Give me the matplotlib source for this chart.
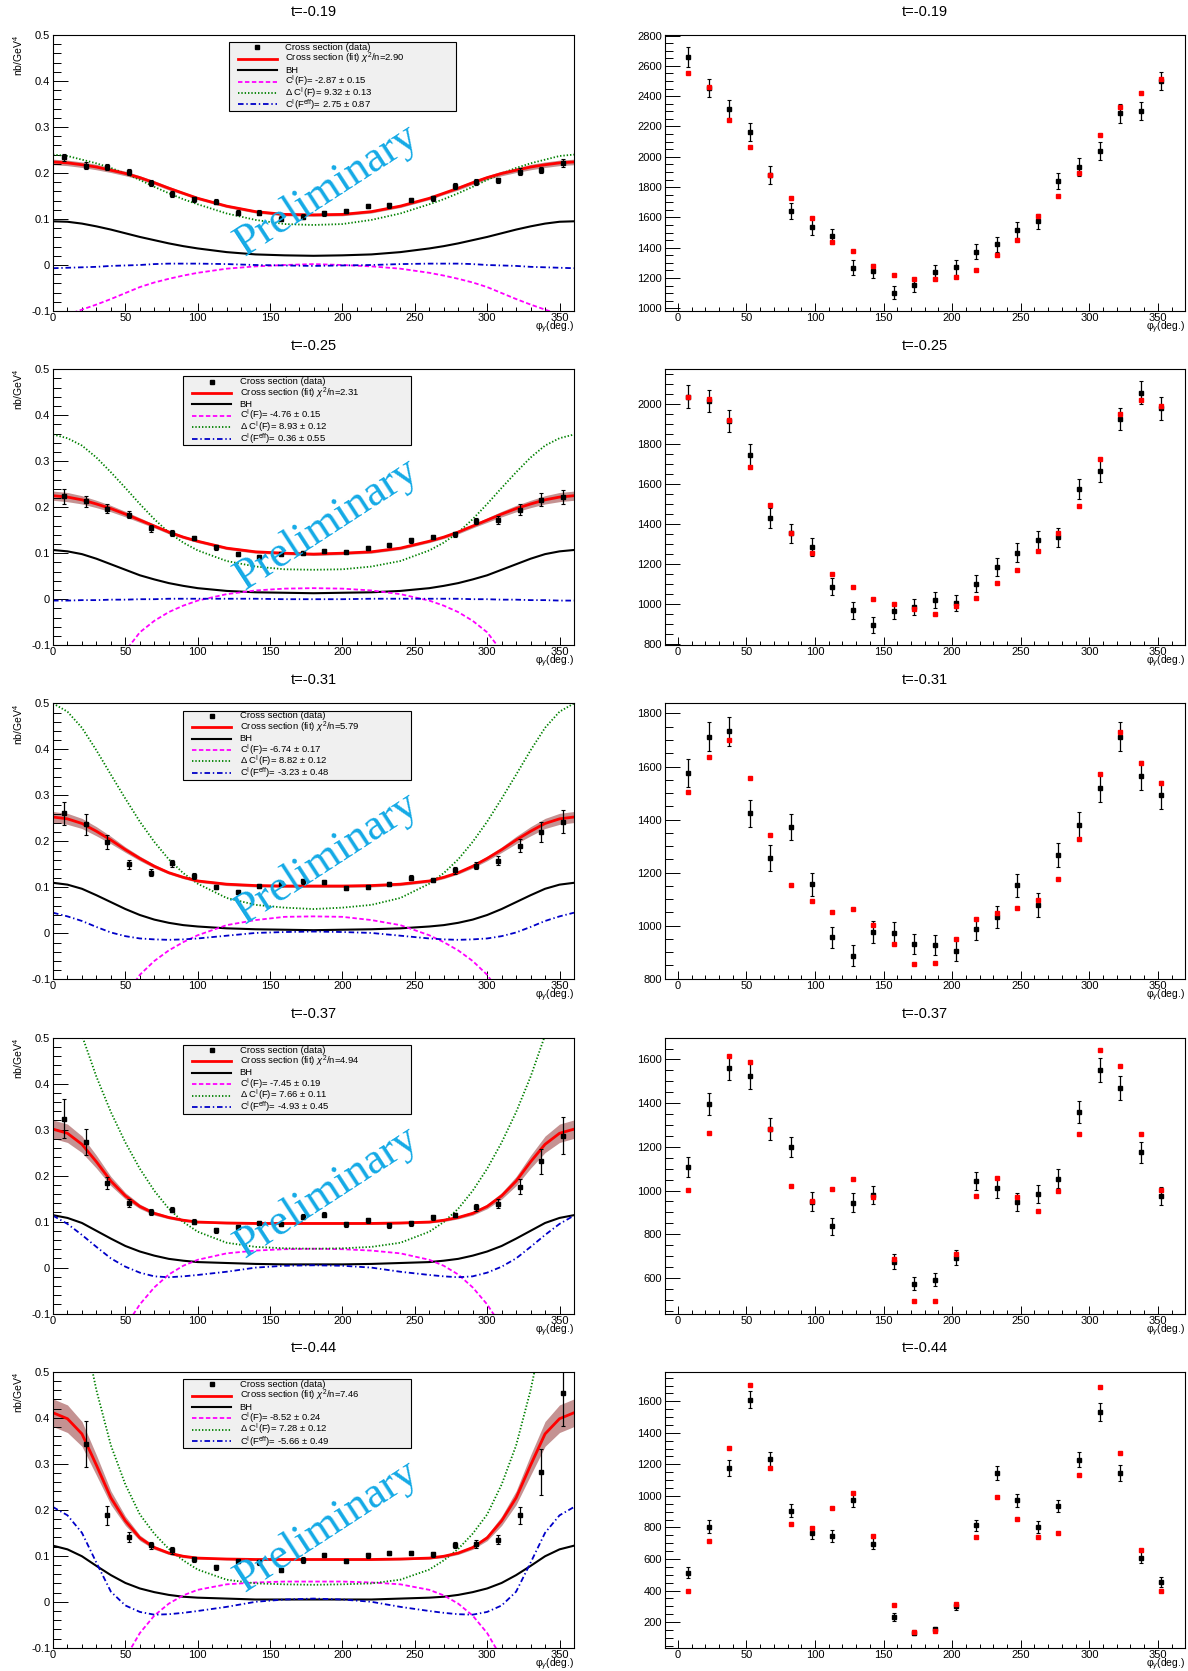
import numpy as np
import matplotlib
matplotlib.use("Agg")
import matplotlib.pyplot as plt
from matplotlib.ticker import MultipleLocator
from matplotlib.patches import Rectangle

plt.rcParams['font.family'] = ['Liberation Sans', 'DejaVu Sans']
plt.rcParams['mathtext.fontset'] = 'custom'
plt.rcParams['mathtext.rm'] = 'Liberation Sans'
plt.rcParams['mathtext.it'] = 'Liberation Sans:italic'
plt.rcParams['lines.scale_dashes'] = False

# --- labels / fit results ---
t_labels = ["t=-0.19", "t=-0.25", "t=-0.31", "t=-0.37", "t=-0.44"]
chi2_n = ["2.90", "2.31", "5.79", "4.94", "7.46"]
ci_par = ["-2.87 ± 0.15", "-4.76 ± 0.15", "-6.74 ± 0.17", "-7.45 ± 0.19", "-8.52 ± 0.24"]
dci_par = ["9.32 ± 0.13", "8.93 ± 0.12", "8.82 ± 0.12", "7.66 ± 0.11", "7.28 ± 0.12"]
eff_par = ["2.75 ± 0.87", "0.36 ± 0.55", "-3.23 ± 0.48", "-4.93 ± 0.45", "-5.66 ± 0.49"]

# phi bin centres of the data points
phi_bins = [7.5, 22.5, 37.5, 52.5, 67.5, 82.5, 97.5, 112.5, 127.5, 142.5, 157.5, 172.5,
            187.5, 202.5, 217.5, 232.5, 247.5, 262.5, 277.5, 292.5, 307.5, 322.5, 337.5, 352.5]

# --- left column: cross section data (nb/GeV^4) ---
xsec = [
    [0.234, 0.216, 0.213, 0.202, 0.178, 0.154, 0.143, 0.138, 0.114, 0.114, 0.101, 0.105,
     0.112, 0.117, 0.128, 0.130, 0.141, 0.145, 0.172, 0.181, 0.184, 0.203, 0.206, 0.222],
    [0.224, 0.213, 0.197, 0.184, 0.154, 0.144, 0.133, 0.113, 0.098, 0.092, 0.098, 0.100,
     0.105, 0.103, 0.112, 0.118, 0.128, 0.135, 0.141, 0.170, 0.172, 0.195, 0.216, 0.222],
    [0.261, 0.237, 0.198, 0.150, 0.132, 0.152, 0.125, 0.101, 0.090, 0.103, 0.108, 0.113,
     0.112, 0.099, 0.101, 0.107, 0.121, 0.116, 0.137, 0.147, 0.158, 0.191, 0.221, 0.243],
    [0.324, 0.273, 0.183, 0.141, 0.121, 0.126, 0.100, 0.081, 0.088, 0.097, 0.095, 0.111,
     0.115, 0.094, 0.103, 0.092, 0.096, 0.109, 0.114, 0.131, 0.139, 0.176, 0.231, 0.287],
    [np.nan, 0.343, 0.188, 0.141, 0.123, 0.112, 0.092, 0.075, 0.089, 0.086, 0.069, 0.091,
     0.102, 0.089, 0.101, 0.106, 0.106, 0.103, 0.124, 0.126, 0.135, 0.188, 0.282, 0.453],
]
xsec_err = [
    [0.008, 0.007, 0.007, 0.007, 0.006, 0.006, 0.005, 0.005, 0.005, 0.005, 0.005, 0.005,
     0.005, 0.005, 0.005, 0.005, 0.005, 0.005, 0.006, 0.006, 0.006, 0.007, 0.007, 0.008],
    [0.016, 0.012, 0.009, 0.008, 0.007, 0.006, 0.005, 0.005, 0.004, 0.004, 0.004, 0.004,
     0.004, 0.004, 0.004, 0.005, 0.005, 0.005, 0.006, 0.007, 0.009, 0.011, 0.014, 0.015],
    [0.025, 0.022, 0.015, 0.010, 0.008, 0.007, 0.006, 0.005, 0.005, 0.005, 0.005, 0.005,
     0.005, 0.005, 0.005, 0.005, 0.005, 0.005, 0.007, 0.008, 0.010, 0.015, 0.022, 0.025],
    [0.042, 0.029, 0.013, 0.009, 0.007, 0.006, 0.005, 0.005, 0.005, 0.005, 0.005, 0.005,
     0.005, 0.005, 0.005, 0.005, 0.005, 0.005, 0.005, 0.007, 0.010, 0.017, 0.027, 0.040],
    [np.nan, 0.050, 0.020, 0.010, 0.008, 0.007, 0.005, 0.005, 0.005, 0.005, 0.005, 0.006,
     0.005, 0.005, 0.005, 0.005, 0.005, 0.005, 0.007, 0.008, 0.010, 0.018, 0.050, 0.070],
]

# --- left column: fitted curves, read at these angles ---
phi_curve = [0, 10, 20, 30, 40, 50, 60, 70, 80, 90, 100, 120, 140, 160, 180,
             200, 220, 240, 260, 270, 280, 290, 300, 310, 320, 330, 340, 350, 360]
fit_curve = [
    [0.224, 0.222, 0.218, 0.213, 0.206, 0.199, 0.190, 0.179, 0.167, 0.156, 0.145, 0.128, 0.116, 0.110, 0.109,
     0.110, 0.116, 0.128, 0.145, 0.156, 0.167, 0.179, 0.190, 0.199, 0.206, 0.213, 0.218, 0.222, 0.224],
    [0.225, 0.222, 0.216, 0.207, 0.197, 0.185, 0.172, 0.159, 0.146, 0.135, 0.126, 0.111, 0.103, 0.100, 0.098,
     0.100, 0.103, 0.111, 0.126, 0.135, 0.146, 0.159, 0.172, 0.185, 0.197, 0.207, 0.216, 0.222, 0.225],
    [0.253, 0.249, 0.239, 0.222, 0.203, 0.182, 0.163, 0.146, 0.132, 0.122, 0.114, 0.107, 0.104, 0.103, 0.103,
     0.103, 0.104, 0.107, 0.114, 0.122, 0.132, 0.146, 0.163, 0.182, 0.203, 0.222, 0.239, 0.249, 0.253],
    [0.301, 0.292, 0.268, 0.230, 0.188, 0.156, 0.133, 0.118, 0.109, 0.103, 0.099, 0.097, 0.096, 0.096, 0.096,
     0.096, 0.096, 0.097, 0.099, 0.103, 0.109, 0.118, 0.133, 0.156, 0.188, 0.230, 0.268, 0.292, 0.301],
    [0.411, 0.398, 0.365, 0.297, 0.226, 0.176, 0.139, 0.118, 0.106, 0.099, 0.095, 0.093, 0.092, 0.092, 0.092,
     0.092, 0.092, 0.093, 0.095, 0.099, 0.106, 0.118, 0.139, 0.176, 0.226, 0.297, 0.365, 0.398, 0.411],
]
fit_band = [
    [0.006, 0.006, 0.006, 0.006, 0.005, 0.005, 0.004, 0.004, 0.004, 0.003, 0.003, 0.003, 0.003, 0.003, 0.003,
     0.003, 0.003, 0.003, 0.003, 0.003, 0.004, 0.004, 0.004, 0.005, 0.005, 0.006, 0.006, 0.006, 0.006],
    [0.010, 0.010, 0.009, 0.008, 0.007, 0.006, 0.005, 0.004, 0.004, 0.003, 0.003, 0.003, 0.003, 0.003, 0.003,
     0.003, 0.003, 0.003, 0.003, 0.003, 0.004, 0.004, 0.005, 0.006, 0.007, 0.008, 0.009, 0.010, 0.010],
    [0.012, 0.012, 0.011, 0.010, 0.008, 0.006, 0.005, 0.004, 0.003, 0.003, 0.003, 0.003, 0.003, 0.003, 0.003,
     0.003, 0.003, 0.003, 0.003, 0.003, 0.003, 0.004, 0.005, 0.006, 0.008, 0.010, 0.011, 0.012, 0.012],
    [0.020, 0.020, 0.018, 0.014, 0.010, 0.007, 0.005, 0.004, 0.003, 0.003, 0.002, 0.002, 0.002, 0.002, 0.002,
     0.002, 0.002, 0.002, 0.002, 0.003, 0.003, 0.004, 0.005, 0.007, 0.010, 0.014, 0.018, 0.020, 0.020],
    [0.030, 0.030, 0.027, 0.022, 0.015, 0.010, 0.006, 0.004, 0.003, 0.003, 0.002, 0.002, 0.002, 0.002, 0.002,
     0.002, 0.002, 0.002, 0.002, 0.003, 0.003, 0.004, 0.006, 0.010, 0.015, 0.022, 0.027, 0.030, 0.030],
]
bh_curve = [
    [0.095, 0.094, 0.090, 0.084, 0.077, 0.069, 0.061, 0.054, 0.047, 0.041, 0.036, 0.028, 0.023, 0.021, 0.020,
     0.021, 0.023, 0.028, 0.036, 0.041, 0.047, 0.054, 0.061, 0.069, 0.077, 0.084, 0.090, 0.094, 0.095],
    [0.107, 0.104, 0.098, 0.088, 0.076, 0.064, 0.052, 0.043, 0.035, 0.029, 0.024, 0.018, 0.015, 0.014, 0.013,
     0.014, 0.015, 0.018, 0.024, 0.029, 0.035, 0.043, 0.052, 0.064, 0.076, 0.088, 0.098, 0.104, 0.107],
    [0.110, 0.106, 0.097, 0.083, 0.068, 0.053, 0.040, 0.030, 0.023, 0.018, 0.015, 0.011, 0.009, 0.008, 0.007,
     0.008, 0.009, 0.011, 0.015, 0.018, 0.023, 0.030, 0.040, 0.053, 0.068, 0.083, 0.097, 0.106, 0.110],
    [0.114, 0.108, 0.097, 0.080, 0.063, 0.047, 0.035, 0.026, 0.019, 0.015, 0.012, 0.010, 0.008, 0.007, 0.007,
     0.007, 0.008, 0.010, 0.012, 0.015, 0.019, 0.026, 0.035, 0.047, 0.063, 0.080, 0.097, 0.108, 0.114],
    [0.122, 0.114, 0.099, 0.078, 0.058, 0.041, 0.029, 0.021, 0.015, 0.011, 0.009, 0.007, 0.005, 0.005, 0.005,
     0.005, 0.005, 0.007, 0.009, 0.011, 0.015, 0.021, 0.029, 0.041, 0.058, 0.078, 0.099, 0.114, 0.122],
]
ci_curve = [
    [-0.115, -0.108, -0.097, -0.086, -0.074, -0.061, -0.048, -0.038, -0.030, -0.023, -0.017, -0.008, -0.003, 0.000, 0.002,
     0.000, -0.003, -0.008, -0.017, -0.023, -0.030, -0.038, -0.048, -0.061, -0.074, -0.086, -0.097, -0.108, -0.115],
    [-0.36, -0.31, -0.26, -0.215, -0.165, -0.113, -0.072, -0.047, -0.028, -0.014, -0.003, 0.011, 0.019, 0.023, 0.024,
     0.023, 0.019, 0.011, -0.003, -0.014, -0.028, -0.047, -0.072, -0.113, -0.165, -0.215, -0.26, -0.31, -0.36],
    [-0.42, -0.36, -0.30, -0.24, -0.185, -0.135, -0.090, -0.060, -0.037, -0.019, -0.004, 0.018, 0.029, 0.036, 0.037,
     0.036, 0.029, 0.018, -0.004, -0.019, -0.037, -0.060, -0.090, -0.135, -0.185, -0.24, -0.30, -0.36, -0.42],
    [-0.47, -0.39, -0.31, -0.245, -0.185, -0.128, -0.080, -0.043, -0.015, 0.004, 0.017, 0.031, 0.037, 0.040, 0.041,
     0.040, 0.037, 0.031, 0.017, 0.004, -0.015, -0.043, -0.080, -0.128, -0.185, -0.245, -0.31, -0.39, -0.47],
    [-0.50, -0.42, -0.34, -0.265, -0.19, -0.122, -0.068, -0.030, -0.004, 0.014, 0.026, 0.038, 0.042, 0.044, 0.044,
     0.044, 0.042, 0.038, 0.026, 0.014, -0.004, -0.030, -0.068, -0.122, -0.19, -0.265, -0.34, -0.42, -0.50],
]
dci_curve = [
    [0.240, 0.237, 0.229, 0.221, 0.211, 0.199, 0.185, 0.170, 0.156, 0.143, 0.132, 0.112, 0.098, 0.089, 0.087,
     0.089, 0.098, 0.112, 0.132, 0.143, 0.156, 0.170, 0.185, 0.199, 0.211, 0.221, 0.229, 0.237, 0.240],
    [0.358, 0.350, 0.334, 0.308, 0.276, 0.242, 0.207, 0.174, 0.145, 0.123, 0.106, 0.083, 0.071, 0.065, 0.064,
     0.065, 0.071, 0.083, 0.106, 0.123, 0.145, 0.174, 0.207, 0.242, 0.276, 0.308, 0.334, 0.350, 0.358],
    [0.500, 0.482, 0.447, 0.398, 0.345, 0.293, 0.243, 0.199, 0.161, 0.131, 0.108, 0.077, 0.062, 0.056, 0.053,
     0.056, 0.062, 0.077, 0.108, 0.131, 0.161, 0.199, 0.243, 0.293, 0.345, 0.398, 0.447, 0.482, 0.500],
    [0.70, 0.60, 0.505, 0.415, 0.338, 0.272, 0.215, 0.167, 0.128, 0.099, 0.078, 0.054, 0.045, 0.042, 0.041,
     0.042, 0.045, 0.054, 0.078, 0.099, 0.128, 0.167, 0.215, 0.272, 0.338, 0.415, 0.505, 0.60, 0.70],
    [0.95, 0.78, 0.61, 0.46, 0.34, 0.255, 0.190, 0.148, 0.115, 0.090, 0.070, 0.048, 0.040, 0.038, 0.037,
     0.038, 0.040, 0.048, 0.070, 0.090, 0.115, 0.148, 0.190, 0.255, 0.34, 0.46, 0.61, 0.78, 0.95],
]
eff_curve = [
    [-0.007, -0.006, -0.005, -0.004, -0.002, -0.001, 0.000, 0.002, 0.003, 0.003, 0.003, 0.002, 0.000, -0.001, -0.002,
     -0.001, 0.000, 0.002, 0.003, 0.003, 0.003, 0.002, 0.000, -0.001, -0.002, -0.004, -0.005, -0.006, -0.007],
    [-0.003, -0.003, -0.002, -0.002, -0.001, -0.001, 0.000, 0.000, 0.001, 0.001, 0.001, 0.001, 0.001, 0.000, 0.000,
     0.000, 0.001, 0.001, 0.001, 0.001, 0.001, 0.000, 0.000, -0.001, -0.001, -0.002, -0.002, -0.003, -0.003],
    [0.045, 0.037, 0.027, 0.014, 0.002, -0.006, -0.011, -0.013, -0.014, -0.013, -0.011, -0.005, 0.001, 0.003, 0.004,
     0.003, 0.001, -0.005, -0.011, -0.013, -0.014, -0.013, -0.011, -0.006, 0.002, 0.014, 0.027, 0.037, 0.045],
    [0.113, 0.095, 0.071, 0.045, 0.020, 0.002, -0.011, -0.019, -0.021, -0.019, -0.016, -0.009, 0.000, 0.004, 0.005,
     0.004, 0.000, -0.009, -0.016, -0.019, -0.021, -0.019, -0.011, 0.002, 0.020, 0.045, 0.071, 0.095, 0.113],
    [0.206, 0.188, 0.150, 0.085, 0.022, -0.008, -0.022, -0.028, -0.027, -0.024, -0.020, -0.011, 0.000, 0.005, 0.007,
     0.005, 0.000, -0.011, -0.020, -0.024, -0.027, -0.028, -0.022, -0.008, 0.022, 0.085, 0.150, 0.188, 0.206],
]

# --- right column: counts (black, with errors) and model (red) ---
counts = [
    [2660, 2456, 2317, 2162, 1881, 1642, 1536, 1476, 1268, 1246, 1104, 1151,
     1239, 1270, 1374, 1421, 1518, 1573, 1841, 1932, 2038, 2286, 2301, 2500],
    [2039, 2017, 1916, 1745, 1429, 1355, 1285, 1087, 969, 897, 964, 986,
     1020, 1006, 1102, 1184, 1258, 1319, 1334, 1577, 1666, 1926, 2059, 1980],
    [1576, 1712, 1733, 1423, 1255, 1371, 1156, 956, 886, 976, 972, 931,
     927, 906, 986, 1033, 1152, 1077, 1267, 1380, 1518, 1712, 1566, 1492],
    [1107, 1398, 1563, 1522, 1281, 1199, 949, 836, 945, 980, 674, 574,
     592, 693, 1044, 1010, 948, 984, 1055, 1360, 1553, 1468, 1176, 975],
    [514, 805, 1176, 1611, 1233, 906, 766, 745, 972, 696, 230, 132,
     157, 300, 815, 1146, 972, 800, 936, 1229, 1532, 1146, 607, 452],
]
counts_err = [
    [64, 60, 60, 60, 58, 55, 55, 50, 48, 48, 45, 45, 45, 48, 50, 50, 52, 52, 55, 58, 60, 60, 60, 62],
    [57, 57, 55, 55, 50, 48, 45, 43, 42, 40, 40, 40, 40, 40, 43, 45, 48, 48, 48, 50, 55, 55, 57, 57],
    [54, 55, 55, 52, 48, 48, 44, 40, 40, 40, 40, 38, 38, 38, 40, 42, 44, 44, 46, 50, 52, 55, 54, 52],
    [47, 50, 55, 55, 50, 47, 43, 40, 43, 42, 35, 30, 30, 35, 43, 43, 43, 43, 45, 50, 55, 55, 48, 43],
    [37, 40, 50, 55, 45, 42, 38, 38, 42, 35, 25, 15, 15, 22, 35, 45, 42, 38, 40, 48, 55, 50, 35, 32],
]
model = [
    [2551, 2461, 2246, 2067, 1883, 1726, 1593, 1440, 1378, 1277, 1217, 1190,
     1195, 1204, 1252, 1352, 1449, 1606, 1739, 1896, 2142, 2330, 2419, 2516],
    [2035, 2029, 1921, 1686, 1496, 1354, 1256, 1152, 1084, 1027, 1001, 976,
     953, 991, 1032, 1107, 1173, 1268, 1357, 1490, 1725, 1951, 2020, 1993],
    [1504, 1636, 1699, 1557, 1343, 1153, 1093, 1050, 1062, 1003, 931, 855,
     859, 948, 1024, 1048, 1068, 1096, 1177, 1327, 1571, 1730, 1615, 1536],
    [1004, 1263, 1617, 1588, 1283, 1023, 951, 1007, 1055, 969, 686, 496,
     496, 711, 977, 1058, 969, 906, 997, 1259, 1643, 1571, 1257, 1001],
    [399, 713, 1305, 1706, 1174, 824, 794, 921, 1019, 745, 310, 136,
     141, 312, 737, 991, 851, 741, 768, 1133, 1691, 1271, 656, 395],
]
counts_ylim = [(982, 2804), (795, 2176), (797, 1838), (437, 1700), (37, 1787)]

# --- layout (pixels of a 1188 x 1671 canvas) ---
W, H = 1188, 1671
row_h = H / 5
fig = plt.figure(figsize=(W / 100, H / 100), dpi=100)

ci_style = dict(color='magenta', lw=1.3, dashes=(3.2, 1.8))
dci_style = dict(color='#008000', lw=1.3, dashes=(1.0, 1.4))
eff_style = dict(color='#0000c8', lw=1.3, dashes=(4.0, 2.0, 1.0, 2.0))
leg_x0 = [0.337, 0.25, 0.25, 0.25, 0.25]


def frame(ax):
    for s in ax.spines.values():
        s.set_linewidth(0.8)
    ax.tick_params(which='both', direction='in', top=False, right=False, width=0.7,
                   labelsize=8)
    ax.tick_params(axis='y', which='major', length=11, pad=2)
    ax.tick_params(axis='y', which='minor', length=5.5)
    ax.tick_params(axis='x', which='major', length=6, pad=1.5)
    ax.tick_params(axis='x', which='minor', length=3)
    ax.xaxis.set_major_locator(MultipleLocator(50))
    ax.xaxis.set_minor_locator(MultipleLocator(10))


def add_legend(ax, x0, i):
    top, bot, w = 0.974, 0.724, 0.437
    ax.add_patch(Rectangle((x0, bot), w, top - bot, transform=ax.transAxes,
                           facecolor='#f0f0f0', edgecolor='black', lw=0.8, zorder=6))
    ys = [0.955 - k * 0.0413 for k in range(6)]
    xa, xb, xt = x0 + 0.0175, x0 + 0.0925, x0 + 0.108
    kw = dict(transform=ax.transAxes, clip_on=False, zorder=7)
    ax.plot([(xa + xb) / 2], [ys[0]], 's', color='black', ms=2.6, **kw)
    ax.plot([xa, xb], [ys[1]] * 2, color='red', lw=2.0, **kw)
    ax.plot([xa, xb], [ys[2]] * 2, color='black', lw=1.5, **kw)
    ax.plot([xa, xb], [ys[3]] * 2, **ci_style, **kw)
    ax.plot([xa, xb], [ys[4]] * 2, **dci_style, **kw)
    ax.plot([xa, xb], [ys[5]] * 2, **eff_style, **kw)
    labels = ["Cross section (data)",
              "Cross section (fit) $\\chi^{2}$/n=" + chi2_n[i],
              "BH",
              "C$^{\\mathrm{I}}$(F)= " + ci_par[i],
              "Δ C$^{\\mathrm{I}}$(F)= " + dci_par[i],
              "C$^{\\mathrm{I}}$(F$^{\\mathrm{eff}}$)= " + eff_par[i]]
    for y, s in zip(ys, labels):
        ax.text(xt, y, s, transform=ax.transAxes, fontsize=6.8, ha='left', va='center', zorder=7)


for i in range(5):
    y0 = 1 - (i * row_h + 311) / H
    h = 276 / H
    axL = fig.add_axes([53 / W, y0, 521 / W, h])
    axR = fig.add_axes([664.5 / W, y0, 520.5 / W, h])

    # ---- left: cross section and fit components ----
    fit = np.array(fit_curve[i])
    band = np.array(fit_band[i])
    axL.fill_between(phi_curve, fit - band, fit + band, color='#c49292', lw=0, zorder=1.5)
    axL.plot(phi_curve, fit, color='red', lw=2.0, zorder=2.5)
    axL.plot(phi_curve, bh_curve[i], color='black', lw=1.5, zorder=2)
    axL.plot(phi_curve, ci_curve[i], **ci_style, zorder=2)
    axL.plot(phi_curve, dci_curve[i], **dci_style, zorder=2)
    axL.plot(phi_curve, eff_curve[i], **eff_style, zorder=2)
    axL.errorbar(phi_bins, xsec[i], yerr=xsec_err[i], fmt='s', ms=3.0, color='black',
                 elinewidth=0.9, capsize=1.2, capthick=0.8, zorder=3)
    axL.set_xlim(0, 360)
    axL.set_ylim(-0.1, 0.5)
    frame(axL)
    axL.set_yticks([-0.1, 0, 0.1, 0.2, 0.3, 0.4, 0.5],
                   ["-0.1", "0", "0.1", "0.2", "0.3", "0.4", "0.5"])
    axL.yaxis.set_minor_locator(MultipleLocator(0.02))
    axL.text(0.525, 0.44, "Preliminary", transform=axL.transAxes, rotation=33,
             rotation_mode='anchor', ha='center', va='center', fontsize=32,
             family='Liberation Serif', color='#14aae6', zorder=4)
    add_legend(axL, leg_x0[i], i)
    axL.text(-0.067, 1.0, "nb/GeV$^{4}$", transform=axL.transAxes, rotation=90,
             ha='center', va='top', fontsize=7.5)

    # ---- right: counts vs model ----
    axR.errorbar(phi_bins, counts[i], yerr=counts_err[i], fmt='s', ms=3.0, color='black',
                 elinewidth=0.9, capsize=1.2, capthick=0.8, zorder=3)
    axR.plot(phi_bins, model[i], 's', ms=3.0, color='red', zorder=4)
    axR.set_xlim(-9.75, 369.75)
    axR.set_ylim(*counts_ylim[i])
    frame(axR)
    axR.yaxis.set_major_locator(MultipleLocator(200))
    axR.yaxis.set_minor_locator(MultipleLocator(50))

    for ax in (axL, axR):
        ax.text(0.5, 1 + 23.5 / 276, t_labels[i], transform=ax.transAxes,
                ha='center', va='center', fontsize=10.5)
        ax.text(1.0, -0.061, "φ$_{\\gamma}$(deg.)", transform=ax.transAxes,
                ha='right', va='center', fontsize=7.5)

fig.savefig("out.png", dpi=100, facecolor='white')
